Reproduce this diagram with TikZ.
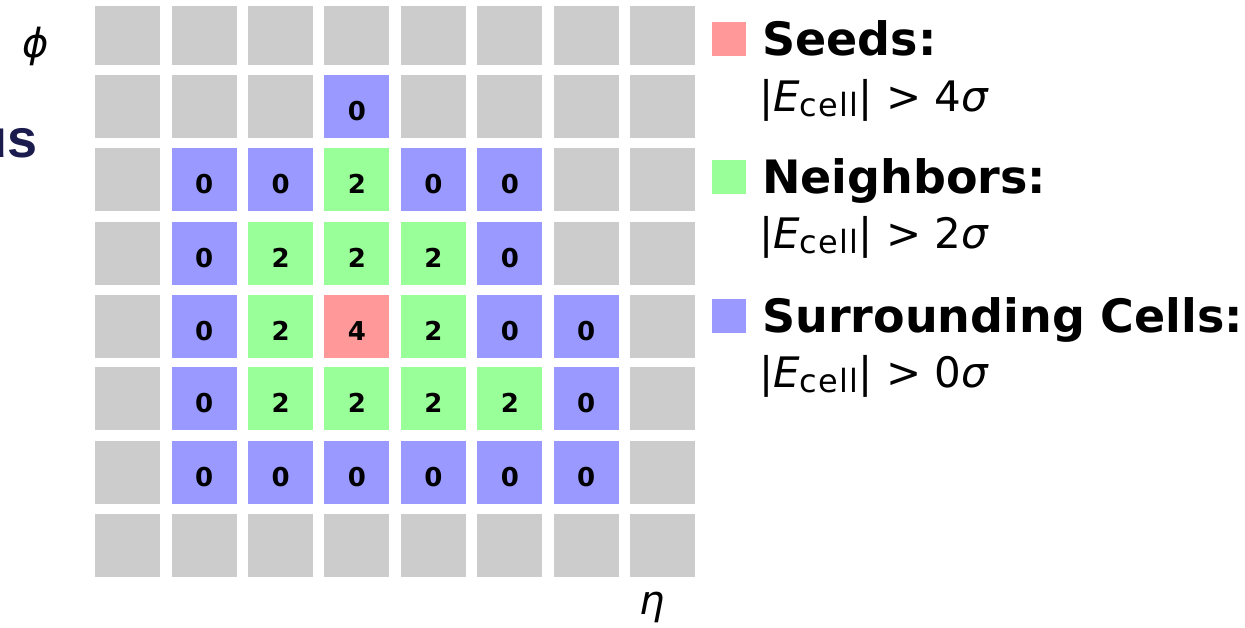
\documentclass[tikz,border=0pt]{standalone}
\usepackage{fontspec}
\setmainfont{DejaVu Sans}
\newfontfamily\usfont{Liberation Sans}
\definecolor{gcell}{HTML}{CCCCCC}
\definecolor{seedc}{HTML}{FF9999}
\definecolor{neighc}{HTML}{99FF99}
\definecolor{surrc}{HTML}{9999FF}
\definecolor{navy}{HTML}{1B1B4D}
\newcommand\setcell[4]{%
  \expandafter\def\csname cellcol-#1-#2\endcsname{#3}%
  \expandafter\def\csname celltxt-#1-#2\endcsname{#4}}
% column, row, colour, digit
\setcell{3}{1}{surrc}{0}
\setcell{1}{2}{surrc}{0}\setcell{2}{2}{surrc}{0}\setcell{3}{2}{neighc}{2}\setcell{4}{2}{surrc}{0}\setcell{5}{2}{surrc}{0}
\setcell{1}{3}{surrc}{0}\setcell{2}{3}{neighc}{2}\setcell{3}{3}{neighc}{2}\setcell{4}{3}{neighc}{2}\setcell{5}{3}{surrc}{0}
\setcell{1}{4}{surrc}{0}\setcell{2}{4}{neighc}{2}\setcell{3}{4}{seedc}{4}\setcell{4}{4}{neighc}{2}\setcell{5}{4}{surrc}{0}\setcell{6}{4}{surrc}{0}
\setcell{1}{5}{surrc}{0}\setcell{2}{5}{neighc}{2}\setcell{3}{5}{neighc}{2}\setcell{4}{5}{neighc}{2}\setcell{5}{5}{neighc}{2}\setcell{6}{5}{surrc}{0}
\setcell{1}{6}{surrc}{0}\setcell{2}{6}{surrc}{0}\setcell{3}{6}{surrc}{0}\setcell{4}{6}{surrc}{0}\setcell{5}{6}{surrc}{0}\setcell{6}{6}{surrc}{0}
\newcommand\Ecell[1]{|\textit{E}\raisebox{-5pt}{\fontsize{32}{34}\selectfont\addfontfeature{LetterSpace=4}cell}| > #1\textit{σ}}
\begin{document}
\begin{tikzpicture}[x=1pt,y=-1pt,
  cell/.style={rectangle,fill=#1,draw=none,minimum width=65pt,inner sep=0pt,anchor=north west},
  num/.style={inner sep=0pt,anchor=base,font=\fontsize{26}{28}\selectfont\bfseries},
  legsq/.style={rectangle,fill=#1,draw=none,minimum width=34pt,minimum height=34pt,inner sep=0pt,anchor=north west},
  head/.style={inner sep=0pt,anchor=base west,font=\fontsize{46}{50}\selectfont\bfseries},
  cond/.style={inner sep=0pt,anchor=base west,font=\fontsize{42}{46}\selectfont},
  axis/.style={inner sep=0pt,anchor=base,font=\fontsize{40}{44}\selectfont\itshape}]
\useasboundingbox (0,0) rectangle (1245,628);
\clip (0,0) rectangle (1245,628);
% grid of cells
\foreach \r/\y/\h in {0/6/59,1/75/63,2/148/63,3/222/63,4/295/63,5/367/63,6/441/63,7/514/63}{
  \foreach \c in {0,...,7}{
    \pgfmathsetmacro\xx{95+76.43*\c}
    \ifcsname cellcol-\c-\r\endcsname
      \edef\cc{\csname cellcol-\c-\r\endcsname}
      \edef\dd{\csname celltxt-\c-\r\endcsname}
      \node[cell=\cc,minimum height=\h pt] (c\c\r) at (\xx,\y) {};
      \node[num] (n\c\r) at ([yshift=-14pt]c\c\r.center) {\dd};
    \else
      \node[cell=gcell,minimum height=\h pt] (c\c\r) at (\xx,\y) {};
    \fi
  }
}
% axis labels
\node[axis] (phi) at (36,58) {ϕ};
\node[axis] (eta) at (652,614) {η};
% cut-off word at left
\node[inner sep=0pt,anchor=base east,text=navy,font=\usfont\fontsize{54}{58}\selectfont\bfseries] (us) at (38,158) {us};
% legend
\node[legsq=seedc] (sq1) at (712,22) {};
\node[head] (h1) at (762,56) {Seeds:};
\node[cond] (t1) at (759,112) {\Ecell{4}};
\node[legsq=neighc] (sq2) at (712,160) {};
\node[head] (h2) at (762,194) {Neighbors:};
\node[cond] (t2) at (759,249) {\Ecell{2}};
\node[legsq=surrc] (sq3) at (712,299) {};
\node[head] (h3) at (762,333) {Surrounding Cells:};
\node[cond] (t3) at (759,387) {\Ecell{0}};
\end{tikzpicture}
\end{document}
